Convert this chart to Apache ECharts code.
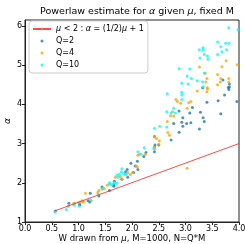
<!doctype html>
<html>
<head>
<meta charset="utf-8">
<script src="https://cdn.jsdelivr.net/npm/echarts@6/dist/echarts.min.js"></script>
<style>
  html,body{margin:0;padding:0;background:#fff}
  #chart{width:245px;height:244px}
</style>
</head>
<body>
<div id="chart"></div>
<script>
// values
const xTicks = [0, 0.5, 1, 1.5, 2, 2.5, 3, 3.5, 4];
const yTicks = [1, 2, 3, 4, 5, 6];

const lineName = 'mu<2';
const linePts = [[0.55, 1.28], [4.0, 3.0]];

const q2 = [
  [0.57,1.28],[0.82,1.48],[1.02,1.46],[1.02,1.43],[1.18,1.54],[1.21,1.51],[1.22,1.73],[1.38,1.66],
  [1.44,1.89],[1.58,1.80],[1.66,1.91],[1.67,2.04],[1.66,1.95],[1.81,2.09],[1.91,2.34],[1.88,2.28],
  [1.92,2.14],[1.98,2.50],[2.06,2.43],[2.11,2.34],[2.03,2.26],[2.10,2.55],[2.26,2.77],[2.22,2.67],
  [2.42,3.18],[2.43,2.96],[2.42,2.91],[2.42,2.79],[2.50,2.96],[2.73,3.09],[2.88,3.29],[2.78,3.51],
  [2.93,3.54],[2.95,3.44],[3.02,3.51],[3.10,3.53],[3.26,3.37],[2.88,3.83],[2.95,3.66],[3.08,3.78],
  [3.13,3.92],[3.28,3.80],[3.33,3.66],[3.35,3.56],[3.40,4.05],[3.61,4.09],[3.73,4.24],[3.96,4.07],
  [3.66,3.76],[3.80,4.43],[3.81,4.38],[3.32,4.42],[3.82,4.52],[3.82,4.44],[3.70,4.62]
];
const q4 = [
  [0.81,1.40],[0.91,1.48],[0.93,1.48],[1.03,1.51],[1.07,1.54],[1.09,1.51],[1.13,1.73],[1.24,1.54],
  [1.36,1.75],[1.38,1.80],[1.44,1.85],[1.48,1.85],[1.54,1.94],[1.67,2.00],[1.69,2.14],[1.78,2.16],
  [1.81,2.10],[1.92,2.26],[1.97,2.21],[2.01,2.26],[2.08,2.43],[2.10,2.40],[2.11,2.70],[2.14,2.73],
  [2.25,2.72],[2.42,2.91],[2.42,2.86],[2.50,2.98],[2.51,3.07],[2.42,3.17],[2.46,3.13],[2.67,3.28],
  [2.70,3.21],[2.66,3.56],[2.72,3.71],[2.78,3.70],[2.76,3.81],[2.82,4.12],[2.85,4.07],[2.91,4.03],
  [3.03,3.90],[3.06,4.04],[3.10,4.07],[3.22,4.34],[3.40,4.32],[3.41,4.39],[3.41,4.42],[3.38,4.57],
  [3.40,4.66],[3.37,4.79],[3.26,4.95],[3.60,4.50],[3.65,4.57],[3.60,4.76],[3.66,4.66],[3.68,4.96],
  [3.81,4.66],[3.81,4.57],[3.76,5.11],[3.97,5.01],[3.03,2.37]
];
const q10 = [
  [0.56,1.26],[0.77,1.32],[0.92,1.43],[1.01,1.41],[1.00,1.50],[1.23,1.56],[1.37,1.71],[1.44,1.84],
  [1.58,1.96],[1.58,2.00],[1.62,1.95],[1.66,1.99],[1.72,1.99],[1.72,2.19],[1.74,2.14],[1.76,2.22],
  [1.80,2.28],[1.84,2.24],[1.89,2.22],[1.87,2.21],[1.81,2.36],[2.23,2.89],[2.11,2.79],[2.17,2.73],
  [2.41,2.88],[2.42,3.39],[2.52,3.44],[2.65,3.42],[2.65,3.81],[2.73,3.78],[2.81,3.78],[2.78,3.90],
  [2.66,4.27],[2.93,4.31],[2.93,4.24],[2.93,4.12],[2.88,4.91],[3.08,4.90],[3.03,4.72],[3.11,4.66],
  [3.22,4.60],[2.93,4.54],[3.05,4.52],[3.32,4.57],[3.33,4.45],[3.35,4.80],[3.27,5.18],[3.35,5.27],
  [3.41,5.23],[3.42,5.15],[3.26,5.39],[3.33,5.44],[3.33,5.39],[3.60,5.27],[3.68,5.34],[3.66,5.47],
  [3.77,5.39],[3.75,5.56],[3.81,5.56],[3.60,5.59],[3.81,5.95],[3.98,5.90]
];

const FONT = 'DejaVu Sans';
const ital = { fontStyle: 'italic', fontFamily: FONT };

const chart = echarts.init(document.getElementById('chart'), null, { renderer: 'canvas' });

function scatter(name, data, color) {
  return {
    name, type: 'scatter', data, symbol: 'circle', symbolSize: 3,
    itemStyle: { color }, silent: true, animation: false
  };
}

chart.setOption({
  animation: false,
  backgroundColor: '#fff',
  textStyle: { fontFamily: FONT },
  title: {
    text: 'Powerlaw estimate for {i|α} given {i|μ}, fixed M',
    left: 132, top: 2, textAlign: 'center',
    textStyle: {
      fontFamily: FONT, fontSize: 9.5, fontWeight: 'normal', color: '#000',
      rich: { i: Object.assign({ fontSize: 9.5, color: '#000' }, ital) }
    }
  },
  grid: {
    left: 25, right: 6, top: 20, bottom: 22, show: true, borderColor: '#222', borderWidth: 1,
    containLabel: false, outerBoundsMode: 'none'
  },
  legend: {
    orient: 'vertical', left: 29, top: 21,
    padding: [3, 4, 3, 3], itemGap: 2, itemWidth: 18, itemHeight: 3,
    backgroundColor: 'rgba(255,255,255,0.85)', borderColor: '#ccc', borderWidth: 1, borderRadius: 3,
    data: [lineName, 'Q=2', 'Q=4', 'Q=10'],
    formatter: n => n === lineName ? '{i|μ} < 2 : {i|α} = (1/2){i|μ} + 1' : n,
    textStyle: {
      fontFamily: FONT, fontSize: 8, color: '#000', lineHeight: 10,
      rich: { i: Object.assign({ fontSize: 8, color: '#000', lineHeight: 10 }, ital) }
    },
    selectedMode: false
  },
  xAxis: {
    type: 'value', min: 0, max: 4,
    name: 'W drawn from {i|μ}, M=1000, N=Q*M', nameLocation: 'middle', nameGap: 12, nameMoveOverlap: false,
    nameTextStyle: { fontSize: 8.5, color: '#000', fontFamily: FONT, rich: { i: Object.assign({ fontSize: 8.5, color: '#000' }, ital) } },
    axisLine: { show: true, lineStyle: { color: '#222', width: 1 } },
    axisTick: { show: true, inside: false, length: 3, lineStyle: { color: '#222' }, customValues: xTicks },
    axisLabel: { fontSize: 8, color: '#000', margin: 3, customValues: xTicks, formatter: v => v.toFixed(1), hideOverlap: false },
    splitLine: { show: false }
  },
  yAxis: {
    type: 'value', min: 1, max: 6.15,
    name: 'α', nameLocation: 'middle', nameGap: 13, nameMoveOverlap: false,
    nameTextStyle: Object.assign({ fontSize: 9, color: '#000' }, ital),
    axisLine: { show: true, lineStyle: { color: '#222', width: 1 } },
    axisTick: { show: true, inside: false, length: 3, lineStyle: { color: '#222' }, customValues: yTicks },
    axisLabel: { fontSize: 8, color: '#000', margin: 3, customValues: yTicks, showMaxLabel: true, hideOverlap: false },
    splitLine: { show: false }
  },
  series: [
    {
      name: lineName, type: 'line', data: linePts, symbol: 'none',
      lineStyle: { color: '#ff2a2a', width: 1, opacity: 0.85 }, itemStyle: { color: '#ff6b6b' },
      silent: true, animation: false
    },
    scatter('Q=2', q2, '#1f77b4'),
    scatter('Q=4', q4, '#ffa500'),
    scatter('Q=10', q10, '#00ffff')
  ]
});
</script>
</body>
</html>
